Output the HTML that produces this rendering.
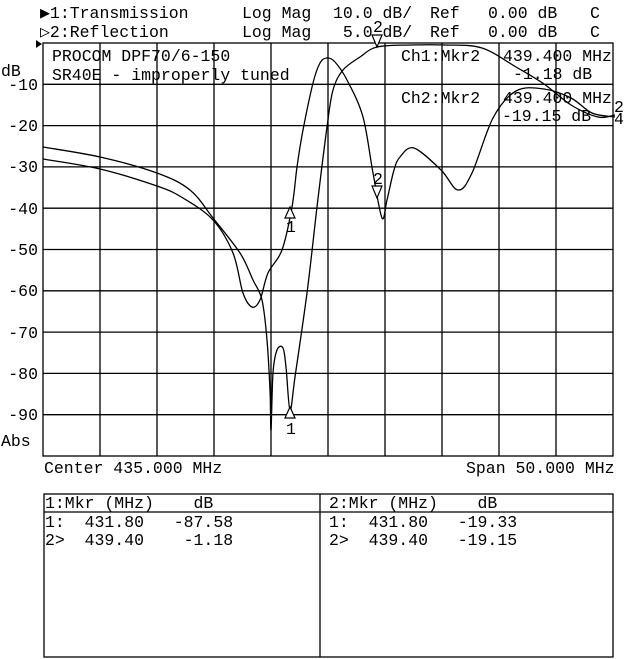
<!DOCTYPE html>
<html><head><meta charset="utf-8"><style>
html,body{margin:0;padding:0;background:#fff;}
svg{display:block;}
text{font-family:"Liberation Mono",monospace;font-size:16.5px;fill:#000;white-space:pre;}
</style></head><body>
<svg width="640" height="659" viewBox="0 0 640 659" xmlns="http://www.w3.org/2000/svg" xml:space="preserve">
<g stroke="#000" stroke-width="1.3" fill="none">
<rect x="43" y="43" width="570" height="413"/>
<path d="M100 43V456M157 43V456M214 43V456M271 43V456M328 43V456M385 43V456M442 43V456M499 43V456M556 43V456
M43 84.3H613M43 125.6H613M43 166.9H613M43 208.2H613M43 249.5H613M43 290.8H613M43 332.1H613M43 373.4H613M43 414.7H613"/>
<rect x="44" y="494" width="569" height="163"/>
<path d="M320 494V657M44 512H613"/>
</g>
<path id="t" fill="none" stroke="#000" stroke-width="1.3" d=""/>
<path id="r" fill="none" stroke="#000" stroke-width="1.3" d=""/>
<g fill="#fff" stroke="#000" stroke-width="1.2">
<path d="M290 207L285 218H295Z"/>
<path d="M290 407L285 418H295Z"/>
<path d="M377 47L372 35H382Z"/>
<path d="M377 198L372 186H382Z"/>
</g>
<g style="font-size:13px">
<text x="286" y="232">1</text>
<text x="286" y="434">1</text>
<text x="373" y="32">2</text>
<text x="373" y="184">2</text>
<text x="614" y="112">2</text>
<text x="614" y="124">4</text>
</g>
<text x="40" y="18">▶1:Transmission</text>
<text x="40" y="37">▷2:Reflection</text>
<text x="242" y="18">Log Mag</text>
<text x="242" y="37">Log Mag</text>
<text x="333" y="18">10.0 dB/</text>
<text x="333" y="37"> 5.0 dB/</text>
<text x="430" y="18">Ref</text>
<text x="430" y="37">Ref</text>
<text x="488" y="18">0.00 dB</text>
<text x="488" y="37">0.00 dB</text>
<text x="590" y="18">C</text>
<text x="590" y="37">C</text>
<path d="M36 40L42 44L36 48Z" fill="#000"/>
<text x="52" y="61">PROCOM DPF70/6-150</text>
<text x="52" y="80">SR40E - improperly tuned</text>
<text x="401" y="61">Ch1:Mkr2</text>
<text x="503" y="61">439.400 MHz</text>
<text x="513" y="79">-1.18 dB</text>
<text x="401" y="103">Ch2:Mkr2</text>
<text x="503" y="103">439.400 MHz</text>
<text x="502" y="121">-19.15 dB</text>
<g text-anchor="end">
<text x="38" y="90">-10</text><text x="38" y="131">-20</text><text x="38" y="172">-30</text>
<text x="38" y="214">-40</text><text x="38" y="255">-50</text><text x="38" y="296">-60</text>
<text x="38" y="338">-70</text><text x="38" y="379">-80</text><text x="38" y="420">-90</text>
</g>
<text x="1" y="76">dB</text>
<text x="1" y="446">Abs</text>
<text x="44" y="473">Center 435.000 MHz</text>
<text x="466" y="473">Span 50.000 MHz</text>
<text x="45" y="508">1:Mkr (MHz)    dB</text>
<text x="45" y="527">1:  431.80   -87.58</text>
<text x="45" y="545">2&gt;  439.40    -1.18</text>
<text x="329" y="508">2:Mkr (MHz)    dB</text>
<text x="329" y="527">1:  431.80   -19.33</text>
<text x="329" y="545">2&gt;  439.40   -19.15</text>
</svg>
<script>
function cr(pts){
  var p=pts.trim().split(/\s+/).map(function(s){return s.split(',').map(Number);});
  var d='M'+p[0][0]+' '+p[0][1];
  for(var i=0;i<p.length-1;i++){
    var p0=p[i-1]||p[i],p1=p[i],p2=p[i+1],p3=p[i+2]||p2;
    var c1x=p1[0]+(p2[0]-p0[0])/6,c1y=p1[1]+(p2[1]-p0[1])/6;
    var c2x=p2[0]-(p3[0]-p1[0])/6,c2y=p2[1]-(p3[1]-p1[1])/6;
    d+=' C'+c1x.toFixed(1)+' '+c1y.toFixed(1)+' '+c2x.toFixed(1)+' '+c2y.toFixed(1)+' '+p2[0]+' '+p2[1];
  }
  return d;
}
document.getElementById('t').setAttribute('d',cr("43,147 100,157 157,173 190,190 213,218 240,253 253,280 262,300 267,340 270,390 271,430 273,373 277,350 283,348 286,367 290,410 295,377 307,293 317,207 327,127 333,90 343,70 360,57 377,47 410,45 445,45 482,48 516,67 544,84 571,105 598,117 615,115"));
document.getElementById('r').setAttribute('d',cr("43,159 100,169 157,186 183,198 213,220 233,253 243,293 252,307 260,300 268,273 282,250 292,207 297,167 303,130 313,83 320,63 327,58 335,62 347,80 363,117 373,173 382,218 387,200 394,170 400,157 414,148 441,170 458,190 472,173 493,118 516,91 544,89 571,98 592,113 615,117"));
</script>
</body></html>
